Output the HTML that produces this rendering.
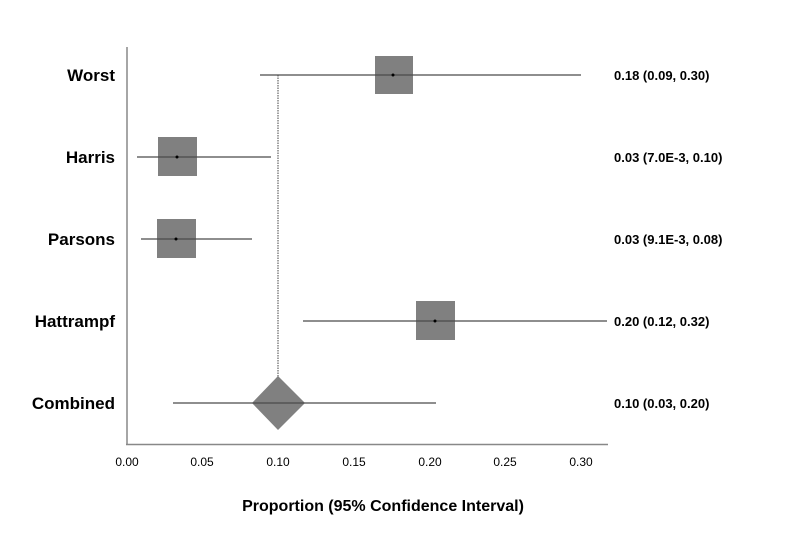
<!DOCTYPE html>
<html><head><meta charset="utf-8"><style>
body{margin:0;background:#fff;}
svg{display:block;font-family:"Liberation Sans",sans-serif;}
</style></head><body>
<svg width="797" height="547" viewBox="0 0 797 547">
<rect width="797" height="547" fill="#fff"/>
<line x1="127" y1="47" x2="127" y2="445" stroke="#888" stroke-width="1.5"/>
<line x1="126" y1="444.5" x2="608" y2="444.5" stroke="#888" stroke-width="1.5"/>
<g font-size="12" fill="#000" text-anchor="middle">
<text x="127" y="466">0.00</text><text x="202" y="466">0.05</text><text x="278" y="466">0.10</text>
<text x="354" y="466">0.15</text><text x="430" y="466">0.20</text><text x="505" y="466">0.25</text><text x="581" y="466">0.30</text>
</g>
<line x1="278" y1="75" x2="278" y2="378" stroke="#444" stroke-width="1" stroke-dasharray="1.5,1"/>
<g fill="#808080">
<rect x="375" y="56" width="38" height="38"/>
<rect x="158" y="137" width="39" height="39"/>
<rect x="157" y="219" width="39" height="39"/>
<rect x="416" y="301" width="39" height="39"/>
<polygon points="278,376 305,403 278,430 252,403"/>
</g>
<g stroke="#4a4a4a" stroke-width="1.3">
<line x1="260" y1="75" x2="581" y2="75"/>
<line x1="137" y1="157" x2="271" y2="157"/>
<line x1="141" y1="239" x2="252" y2="239"/>
<line x1="303" y1="321" x2="607" y2="321"/>
<line x1="173" y1="403" x2="436" y2="403"/>
</g>
<g fill="#000"><circle cx="393" cy="75" r="1.5"/><circle cx="177" cy="157" r="1.5"/><circle cx="176" cy="239" r="1.5"/><circle cx="435" cy="321" r="1.5"/></g>
<g font-size="17" font-weight="bold" text-anchor="end">
<text x="115" y="81">Worst</text><text x="115" y="163">Harris</text><text x="115" y="245">Parsons</text>
<text x="115" y="327">Hattrampf</text><text x="115" y="409">Combined</text>
</g>
<g font-size="13" font-weight="bold">
<text x="614" y="80">0.18 (0.09, 0.30)</text><text x="614" y="162">0.03 (7.0E-3, 0.10)</text>
<text x="614" y="244">0.03 (9.1E-3, 0.08)</text><text x="614" y="326">0.20 (0.12, 0.32)</text>
<text x="614" y="408">0.10 (0.03, 0.20)</text>
</g>
<text x="383" y="511" font-size="16" font-weight="bold" text-anchor="middle">Proportion (95% Confidence Interval)</text>
</svg>
</body></html>
